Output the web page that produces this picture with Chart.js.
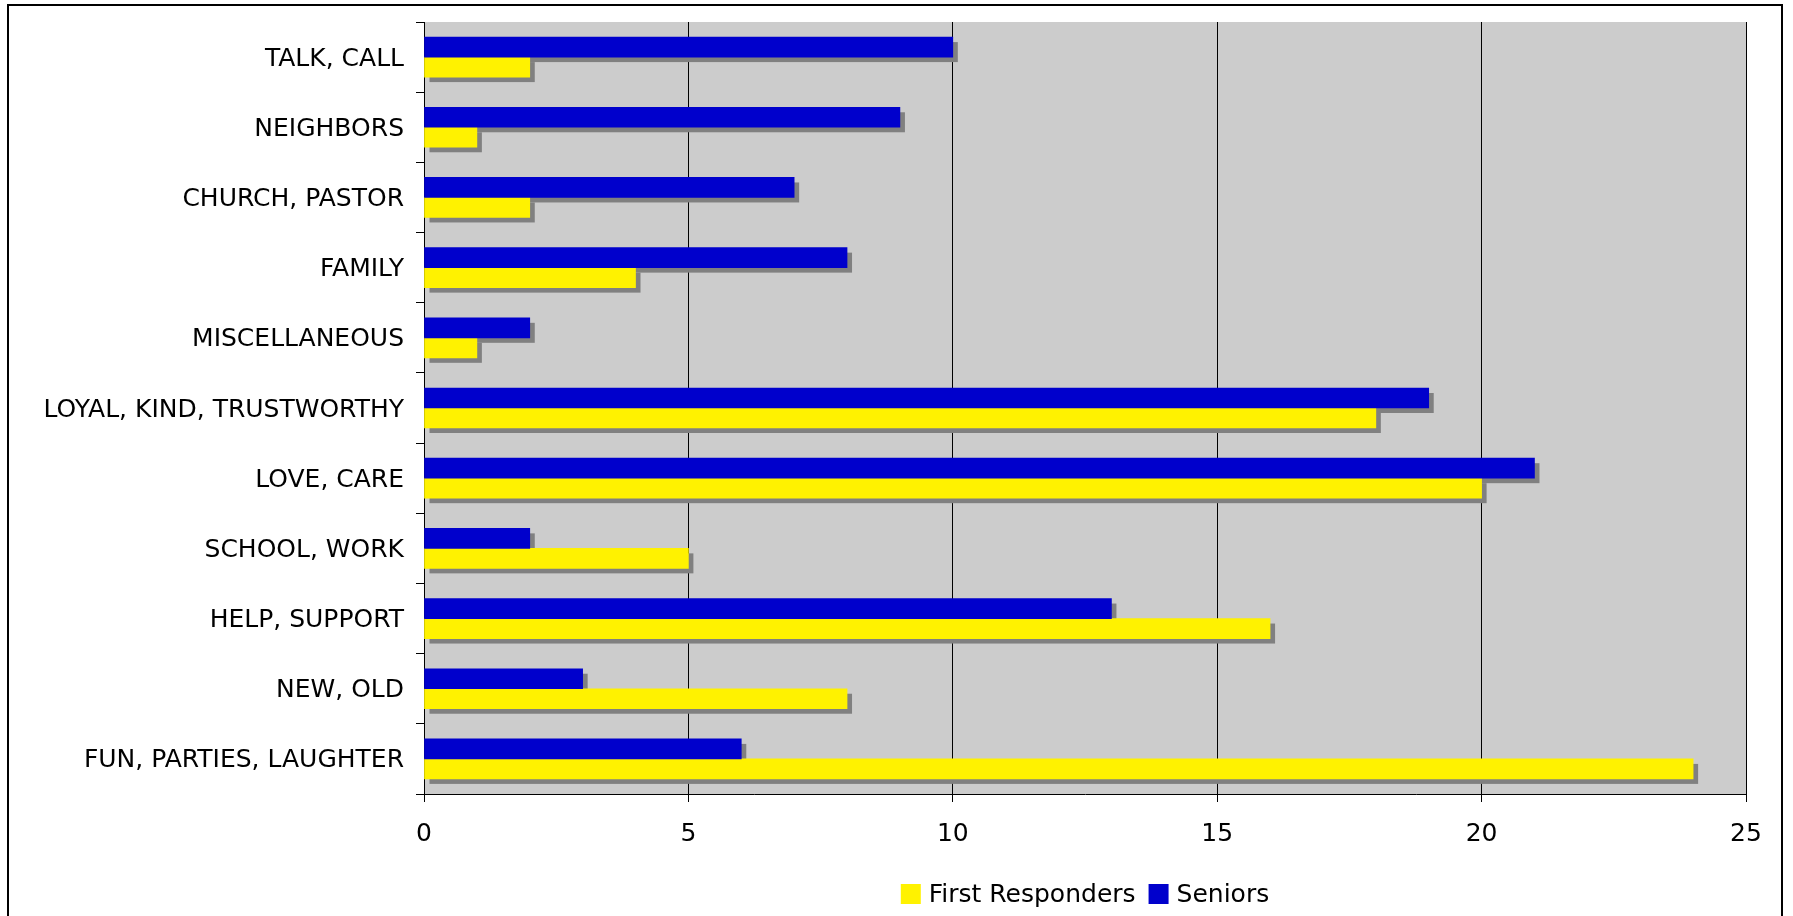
<!DOCTYPE html>
<html>
<head>
<meta charset="utf-8">
<title>First Responders vs Seniors</title>
<script src="https://cdn.jsdelivr.net/npm/chart.js@4/dist/chart.umd.min.js"></script>
<style>
  html, body { margin: 0; padding: 0; background: #ffffff; }
  #wrap { width: 1793px; height: 916px; position: relative; }
</style>
</head>
<body>
<div id="wrap"><canvas id="chart"></canvas></div>
<script>
// Response categories, listed top to bottom
const categories = [
  'TALK, CALL',
  'NEIGHBORS',
  'CHURCH, PASTOR',
  'FAMILY',
  'MISCELLANEOUS',
  'LOYAL, KIND, TRUSTWORTHY',
  'LOVE, CARE',
  'SCHOOL, WORK',
  'HELP, SUPPORT',
  'NEW, OLD',
  'FUN, PARTIES, LAUGHTER'
];

// Counts per category
const seniors         = [10, 9, 7, 8, 2, 19, 21, 2, 13, 3, 6];
const firstResponders = [ 2, 1, 2, 4, 1, 18, 20, 5, 16, 8, 24];

// Value axis
const axisMin = 0;
const axisMax = 25;
const axisStep = 5;

// Legend order
const legendOrder = ['First Responders', 'Seniors'];

const FONT = 'DejaVu Sans';
const FONT_SIZE = 25;
const PLOT_BG = '#CCCCCC';
const SHADOW = '#808080';

Chart.defaults.font.family = FONT;
Chart.defaults.color = '#000000';

// Grey plot background and white page
const backgroundPlugin = {
  id: 'plotBackground',
  beforeDraw(chart) {
    const { ctx, chartArea: a, width, height } = chart;
    ctx.save();
    ctx.fillStyle = '#ffffff';
    ctx.fillRect(0, 0, width, height);
    ctx.fillStyle = PLOT_BG;
    ctx.fillRect(a.left, a.top, a.right - a.left, a.bottom - a.top);
    ctx.restore();
  }
};

// Drop shadow behind every bar, offset down and to the right
const shadowPlugin = {
  id: 'barShadow',
  beforeDatasetsDraw(chart) {
    const ctx = chart.ctx;
    const off = 5;
    ctx.save();
    ctx.fillStyle = SHADOW;
    chart.data.datasets.forEach((ds, i) => {
      const meta = chart.getDatasetMeta(i);
      if (meta.hidden) return;
      meta.data.forEach(bar => {
        const p = bar.getProps(['x', 'y', 'base', 'height'], true);
        const left = Math.min(p.x, p.base);
        const w = Math.abs(p.x - p.base);
        ctx.fillRect(left + off, p.y - p.height / 2 + off, w, p.height);
      });
    });
    ctx.restore();
  }
};

// Legend centred under the plot area, plus the outer frame
const legendFramePlugin = {
  id: 'legendFrame',
  afterDraw(chart) {
    const { ctx, chartArea: a } = chart;
    ctx.save();
    ctx.font = FONT_SIZE + 'px "' + FONT + '"';
    ctx.textBaseline = 'middle';
    ctx.textAlign = 'left';
    const box = 20, textGap = 8, itemGap = 13;
    const items = legendOrder.map(label => {
      const ds = chart.data.datasets.find(d => d.label === label);
      return { label, color: ds.backgroundColor, w: ctx.measureText(label).width };
    });
    const total = items.reduce((s, it) => s + box + textGap + it.w, 0) + itemGap * (items.length - 1);
    let x = (a.left + a.right) / 2 - total / 2;
    const cy = 894;
    items.forEach(it => {
      ctx.fillStyle = it.color;
      ctx.fillRect(x, cy - box / 2, box, box);
      ctx.fillStyle = '#000000';
      ctx.fillText(it.label, x + box + textGap, cy + 1);
      x += box + textGap + it.w + itemGap;
    });

    ctx.strokeStyle = '#000000';
    ctx.lineWidth = 2;
    ctx.strokeRect(8, 5, 1782 - 8, 1000);
    ctx.restore();
  }
};

const tickFont = { family: FONT, size: FONT_SIZE };

new Chart(document.getElementById('chart'), {
  type: 'bar',
  data: {
    labels: categories,
    datasets: [
      {
        label: 'Seniors',
        data: seniors,
        backgroundColor: '#0000CC',
        borderWidth: 0,
        barThickness: 20
      },
      {
        label: 'First Responders',
        data: firstResponders,
        backgroundColor: '#FFF200',
        borderWidth: 0,
        barThickness: 20
      }
    ]
  },
  options: {
    indexAxis: 'y',
    responsive: true,
    maintainAspectRatio: false,
    animation: false,
    layout: { padding: { left: 0, top: 22, right: 47, bottom: 62 } },
    plugins: {
      legend: { display: false },
      tooltip: { enabled: false },
      title: { display: false }
    },
    scales: {
      x: {
        type: 'linear',
        position: 'bottom',
        min: axisMin,
        max: axisMax,
        ticks: { stepSize: axisStep, font: tickFont, color: '#000000', padding: 17, maxRotation: 0 },
        grid: { color: '#000000', lineWidth: 1, drawTicks: true, tickLength: 8, tickColor: '#000000' },
        border: { display: true, color: '#000000', width: 1 },
        afterFit(scale) { scale.height = 60; }
      },
      y: {
        type: 'category',
        position: 'left',
        offset: true,
        ticks: { font: tickFont, color: '#000000', padding: 12, autoSkip: false, labelOffset: 2 },
        grid: { offset: true, drawOnChartArea: false, drawTicks: true, tickLength: 8, color: '#000000' },
        border: { display: true, color: '#000000', width: 1 },
        afterFit(scale) {
          scale.width = 424;
          // labels sit between category lines, so no extra room above or below is needed
          scale.paddingTop = 0;
          scale.paddingBottom = 0;
        }
      }
    }
  },
  plugins: [backgroundPlugin, shadowPlugin, legendFramePlugin]
});
</script>
</body>
</html>
